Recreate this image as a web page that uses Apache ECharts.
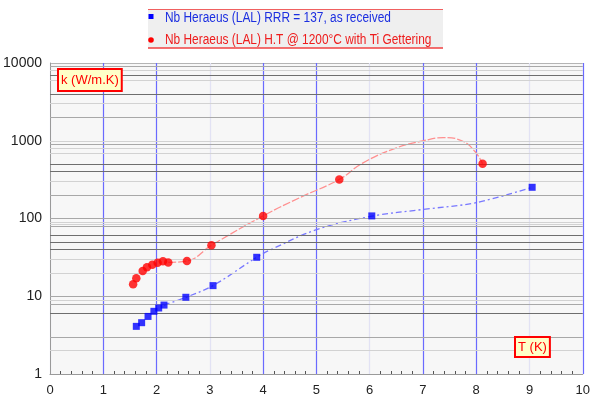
<!DOCTYPE html>
<html>
<head>
<meta charset="utf-8">
<script src="https://cdn.jsdelivr.net/npm/echarts@6/dist/echarts.min.js"></script>
<style>
  html, body { margin: 0; padding: 0; background: #ffffff; }
  #chart { width: 593px; height: 401px; }
</style>
</head>
<body>
<div id="chart"></div>
<script>
// Thermal conductivity of Nb samples vs temperature
const seriesNames = [
  'Nb Heraeus (LAL) RRR = 137, as received',
  'Nb Heraeus (LAL) H.T @ 1200°C with Ti Gettering'
];

// measured points, as received
const blueT = [1.62, 1.72, 1.84, 1.95, 2.04, 2.14, 2.55, 3.06, 3.88, 6.04, 9.05];
const blueK = [4.1, 4.57, 5.5, 6.4, 7.06, 7.7, 9.7, 13.7, 31.7, 108, 252];

// measured points, heat treated
const redT = [1.56, 1.62, 1.74, 1.82, 1.92, 2.02, 2.12, 2.22, 2.57, 3.03, 4.0, 5.43, 8.12];
const redK = [14.3, 17.0, 21.1, 23.6, 25.4, 27.0, 28.2, 27.2, 28.4, 45.2, 108, 318, 505];

// fitted curves
const blueFitT = [2.14, 2.55, 3.06, 3.88, 4.17, 5.02, 6.04, 7.01, 8.0, 9.05];
const blueFitK = [7.7, 9.7, 13.7, 31.7, 40.5, 72.6, 107, 131, 160, 252];
const redFitT = [2.22, 2.57, 3.03, 4.0, 4.73, 5.43, 5.86, 6.48, 7.01, 7.38, 7.73, 7.98, 8.12];
const redFitK = [27.2, 28.4, 45.2, 108, 191, 318, 512, 800, 1000, 1097, 1000, 722, 505];

// axis ticks
const xTicks = [0, 1, 2, 3, 4, 5, 6, 7, 8, 9, 10];
const yTicks = [1, 10, 100, 1000, 10000];

// horizontal reference lines, grouped by weight
const gridDark = [7000, 4000, 500, 400, 60, 50, 40, 6];
const gridMedium = [9000, 2000, 900, 200, 100, 80, 10, 8, 3];
const gridLight = [8000, 6000, 3000, 1000, 800, 700, 300, 90, 85, 30, 20, 9, 2];

const pairs = (xs, ys) => xs.map((x, i) => [x, ys[i]]);

function gridSeries(name, values, color) {
  return {
    name: name,
    type: 'line',
    data: [],
    z: 1,
    silent: true,
    markLine: {
      silent: true,
      symbol: 'none',
      label: { show: false },
      animation: false,
      lineStyle: { color: color, width: 1.2, type: 'solid' },
      data: values.map(v => ({ yAxis: v }))
    }
  };
}

const chart = echarts.init(document.getElementById('chart'), null, { renderer: 'canvas' });

const fontMain = "'Liberation Sans', Arial, sans-serif";
const legendFont = "14px 'Liberation Sans', Arial, sans-serif";
const boxFont = "13px 'Liberation Sans', Arial, sans-serif";

chart.setOption({
  animation: false,
  backgroundColor: '#ffffff',
  grid: {
    left: 50, right: 8, top: 63, bottom: 27,
    show: true, backgroundColor: '#f7f7f7', borderWidth: 0
  },
  xAxis: {
    type: 'value',
    min: 0, max: 10, interval: 1,
    axisLine: { show: true, onZero: false, lineStyle: { color: '#9a9a9a', width: 1 } },
    axisTick: { show: false },
    minorTick: { show: true, splitNumber: 5, length: -3, lineStyle: { color: '#555' } },
    axisLabel: {
      color: '#222', fontFamily: fontMain, fontSize: 13, margin: 10,
      formatter: v => (xTicks.indexOf(v) >= 0 ? String(v) : '')
    },
    splitLine: {
      show: true,
      lineStyle: { color: ['#e2e2f4', '#6a6aff', '#6a6aff'], width: 1.2 }
    }
  },
  yAxis: {
    type: 'log',
    logBase: 10,
    min: 1, max: 10000,
    axisLine: { show: true, lineStyle: { color: '#9a9a9a', width: 1 } },
    axisTick: { show: false },
    axisLabel: {
      color: '#222', fontFamily: fontMain, fontSize: 14, margin: 8,
      formatter: v => (yTicks.indexOf(v) >= 0 ? String(v) : '')
    },
    splitLine: { show: true, lineStyle: { color: '#b4b4b4', width: 1.2 } }
  },
  graphic: [
    // legend panel
    { type: 'rect', z: 0, shape: { x: 148, y: 9, width: 295, height: 39 },
      style: { fill: '#efefef', stroke: 'none' } },
    { type: 'line', z: 1, shape: { x1: 148, y1: 9.5, x2: 443, y2: 9.5 },
      style: { stroke: '#f06060', lineWidth: 1 } },
    { type: 'line', z: 1, shape: { x1: 148, y1: 48, x2: 443, y2: 48 },
      style: { stroke: '#f04040', lineWidth: 1.5 } },
    // legend entries
    { type: 'rect', z: 2, shape: { x: 148.5, y: 14, width: 5, height: 5 },
      style: { fill: '#0000ff' } },
    { type: 'text', z: 2, x: 165, y: 18.5, scaleX: 0.85,
      style: { text: seriesNames[0], fill: '#1c2fe0', font: legendFont, verticalAlign: 'middle' } },
    { type: 'circle', z: 2, shape: { cx: 151, cy: 40, r: 2.8 },
      style: { fill: '#ff0000' } },
    { type: 'text', z: 2, x: 165, y: 40, scaleX: 0.85,
      style: { text: seriesNames[1], fill: '#ee1c1c', font: legendFont, verticalAlign: 'middle' } },
    // axis titles
    { type: 'text', z: 10, left: 57, top: 68,
      style: { text: 'k (W/m.K)', fill: '#ff0000', font: boxFont,
        backgroundColor: '#ffffc8', borderColor: '#ff0000', borderWidth: 2, padding: [4, 2, 3, 2] } },
    { type: 'text', z: 10, left: 514, top: 336,
      style: { text: 'T (K)', fill: '#ff0000', font: boxFont,
        backgroundColor: '#ffffc8', borderColor: '#ff0000', borderWidth: 2, padding: [3, 2, 2, 2] } }
  ],
  series: [
    gridSeries('gridLight', gridLight, '#d2d2d2'),
    gridSeries('gridMedium', gridMedium, '#a8a8a8'),
    gridSeries('gridDark', gridDark, '#6e6e6e'),
    {
      name: 'blueFit', type: 'line', z: 3, smooth: 0.35, symbol: 'none', silent: true,
      data: pairs(blueFitT, blueFitK),
      lineStyle: { color: '#7878ff', width: 1.3, type: [6, 3, 2, 3] }
    },
    {
      name: 'redFit', type: 'line', z: 3, smooth: 0.45, symbol: 'none', silent: true,
      data: pairs(redFitT, redFitK),
      lineStyle: { color: '#ff9090', width: 1.3, type: [8, 2] }
    },
    {
      name: seriesNames[0], type: 'scatter', z: 5,
      symbol: 'rect', symbolSize: 7,
      itemStyle: { color: '#0000ff' },
      data: pairs(blueT, blueK)
    },
    {
      name: seriesNames[1], type: 'scatter', z: 5,
      symbol: 'circle', symbolSize: 8.5,
      itemStyle: { color: '#ff0000' },
      data: pairs(redT, redK)
    }
  ]
});
</script>
</body>
</html>
